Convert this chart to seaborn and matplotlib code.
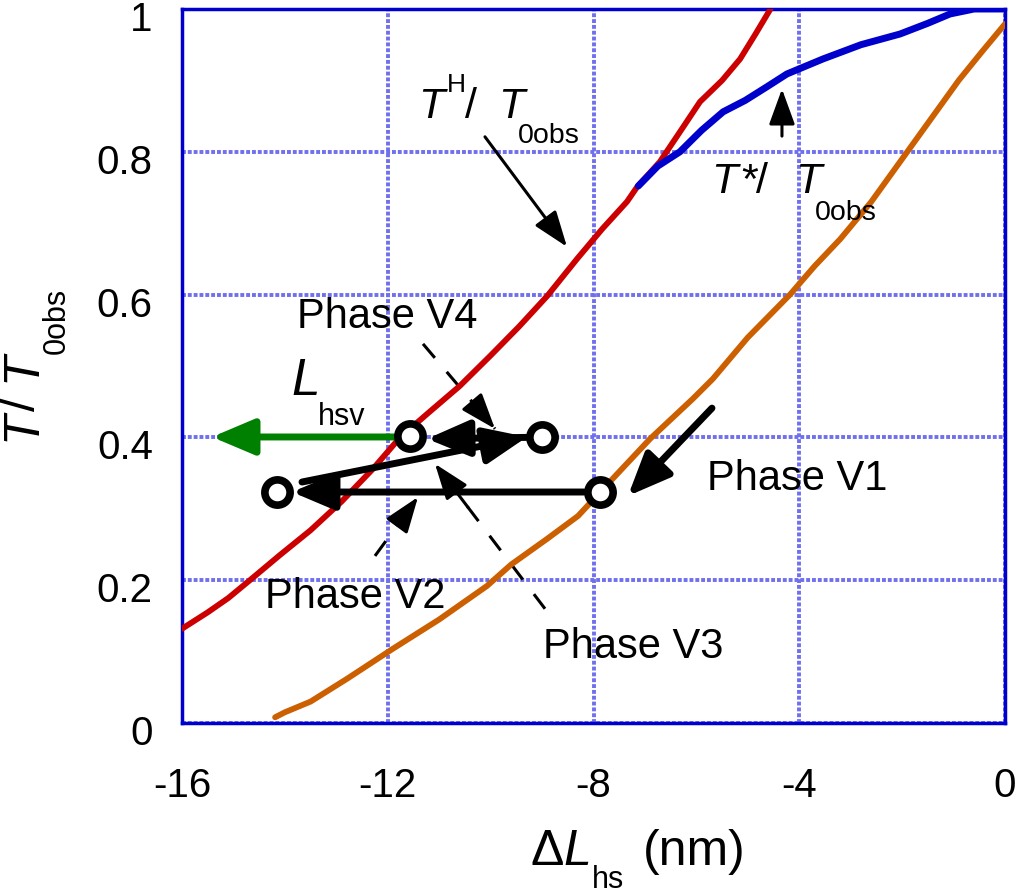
import matplotlib
matplotlib.use("Agg")
import matplotlib.pyplot as plt
import matplotlib.transforms as mtransforms
import seaborn as sns

# T^H / T0obs (red)
th_x = [-16.0, -15.5, -15.1, -14.68, -14.1, -13.5, -12.9, -12.3, -11.76, -11.2, -10.6, -10.01, -9.45,
        -8.90, -8.32, -7.83, -7.35, -7.15, -6.71, -6.3, -5.93, -5.5, -5.15, -4.85, -4.56]
th_y = [0.132, 0.155, 0.175, 0.20, 0.235, 0.27, 0.31, 0.355, 0.40, 0.435, 0.472, 0.514, 0.555,
        0.598, 0.650, 0.692, 0.730, 0.751, 0.786, 0.83, 0.87, 0.90, 0.93, 0.965, 1.0]

# T* / T0obs (blue)
ts_x = [-7.13, -6.75, -6.32, -5.9, -5.48, -5.05, -4.63, -4.24, -3.54, -2.8, -2.04, -1.5, -1.07, -0.6, 0.0]
ts_y = [0.752, 0.78, 0.80, 0.83, 0.856, 0.872, 0.891, 0.909, 0.93, 0.95, 0.965, 0.98, 0.993, 1.0, 1.0]

# T / T0obs loading curve (orange)
to_x = [-14.19, -14.0, -13.5, -12.79, -11.9, -11.0, -10.07, -9.6, -8.9, -8.3, -7.68, -6.9, -6.07,
        -5.68, -5.0, -4.18, -3.7, -3.2, -2.6, -2.04, -1.5, -0.9, -0.45, 0.0]
to_y = [0.008, 0.015, 0.03, 0.062, 0.104, 0.145, 0.192, 0.222, 0.258, 0.29, 0.338, 0.398, 0.454,
        0.482, 0.54, 0.60, 0.64, 0.678, 0.73, 0.786, 0.84, 0.90, 0.94, 0.979]

# end points of the phases (open circles)
pt_x = [-7.874, -14.153, -9.0, -11.568]
pt_y = [0.3235, 0.3235, 0.40, 0.402]

xticks = [-16, -12, -8, -4, 0]
yticks = [0, 0.2, 0.4, 0.6, 0.8, 1]
xtick_labels = ['-16', '-12', '-8', '-4', '0']
ytick_labels = ['0', '0.2', '0.4', '0.6', '0.8', '1']

sns.set_style("white")
plt.rcParams['font.family'] = ['Liberation Sans', 'DejaVu Sans']
plt.rcParams['text.color'] = 'black'

fig = plt.figure(figsize=(10.24, 8.95), dpi=100)
ax = fig.add_axes([182 / 1024, 1 - 724 / 895, 823 / 1024, 714 / 895])

sns.lineplot(x=th_x, y=th_y, color='#cc0000', lw=4.2, ax=ax, sort=False, zorder=3)
sns.lineplot(x=to_x, y=to_y, color='#cc5f00', lw=4.2, ax=ax, sort=False, zorder=3)
sns.lineplot(x=ts_x, y=ts_y, color='#0000cc', lw=5, ax=ax, sort=False, zorder=4)

ax.set_xlim(-16, 0)
ax.set_ylim(0, 1)
ax.set_xticks(xticks)
ax.set_yticks(yticks)
ax.set_xticklabels(xtick_labels)
ax.set_yticklabels(ytick_labels)
ax.grid(True, color='#7070ee', linestyle=(0, (1, 0.5)), lw=2.8)
for s in ax.spines.values():
    s.set_color('#0000cc')
    s.set_linewidth(2.5)
ax.tick_params(direction='in', length=8, width=2.5, color='#0000cc', labelsize=29, labelcolor='black')
ax.tick_params(axis='x', pad=31)
ax.tick_params(axis='y', pad=21)
shift = mtransforms.ScaledTranslation(0, -0.06, fig.dpi_scale_trans)
for lbl in ax.get_yticklabels():
    lbl.set_transform(lbl.get_transform() + shift)

# phase transitions
def thick(tip, start, color='black'):
    ax.annotate('', xy=tip, xytext=start, zorder=5,
                arrowprops=dict(arrowstyle='-|>,head_length=2.6,head_width=1.1', mutation_scale=10,
                                color=color, lw=5, shrinkA=0, shrinkB=0))

thick((-13.862, 0.3235), (-8.185, 0.3235))
thick((-9.293, 0.4006), (-13.667, 0.3375))
thick((-11.237, 0.398), (-9.31, 0.40))
thick((-7.33, 0.318), (-5.697, 0.441))
thick((-15.417, 0.4006), (-11.859, 0.4006), color='#008000')
sns.scatterplot(x=pt_x, y=pt_y, s=330, facecolor='white', edgecolor='black', linewidth=5.5, ax=ax, zorder=6)

# pointers from labels
def pointer(start, tip, dashed=False):
    if dashed:
        ax.plot([start[0], tip[0]], [start[1], tip[1]], color='black', lw=2.2, ls=(0, (6, 6)))
        back = (tip[0] - 0.3 * (tip[0] - start[0]), tip[1] - 0.3 * (tip[1] - start[1]))
    else:
        back = start
    ax.annotate('', xy=tip, xytext=back,
                arrowprops=dict(arrowstyle='-|>,head_length=2.2,head_width=0.8', mutation_scale=10,
                                color='black', lw=2.2, shrinkA=0, shrinkB=0))

pointer((-10.11, 0.821), (-8.516, 0.667))
pointer((-4.336, 0.822), (-4.336, 0.888))
pointer((-11.315, 0.531), (-9.915, 0.412), dashed=True)
pointer((-12.248, 0.234), (-11.412, 0.3165), dashed=True)
pointer((-8.943, 0.160), (-11.082, 0.363), dashed=True)

def put(s, x, y, size, italic=False, rot=0):
    fig.text(x / 1024, 1 - y / 895, s, fontsize=size, style='italic' if italic else 'normal',
             ha='left', va='baseline', rotation=rot, rotation_mode='anchor', color='black')

put('Phase V4', 297, 328, 30)
put('Phase V1', 707, 490, 30)
put('Phase V2', 265, 608, 30)
put('Phase V3', 543, 658, 30)

put('T', 418, 118, 31, italic=True)
put('H', 447, 92, 19)
put('/', 465, 118, 31)
put('T', 498, 118, 31, italic=True)
put('0obs', 518, 143, 20.5)

put('T', 711, 193, 31, italic=True)
put('*', 741, 193, 31)
put('/', 756, 193, 31)
put('T', 795, 193, 31, italic=True)
put('0obs', 815, 220, 20.5)

put('L', 291, 395, 37, italic=True)
put('hsv', 318, 425, 22)

put('\u0394', 531, 865, 36)
put('L', 563, 865, 36, italic=True)
put('hs', 592, 888, 22)
put('(nm)', 643, 865, 36)

put('T', 35, 441, 36, italic=True, rot=90)
put('/', 35, 411, 36, rot=90)
put('T', 35, 382, 36, italic=True, rot=90)
put('0obs', 65, 354, 22, rot=90)

fig.savefig('out.png', dpi=100)
